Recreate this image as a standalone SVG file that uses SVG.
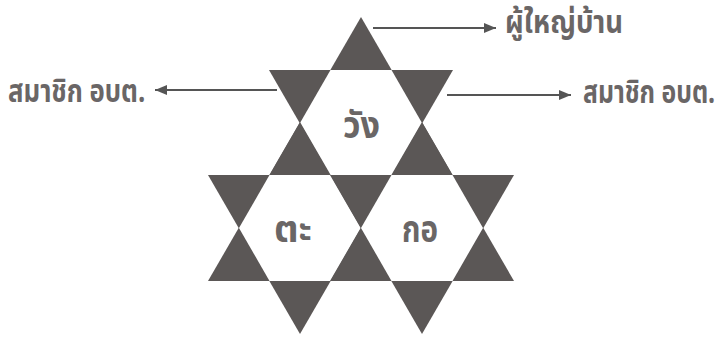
<svg xmlns="http://www.w3.org/2000/svg" width="722" height="337" viewBox="0 0 722 337">
<defs>
<style>
.tri{fill:#5b5756}
.hex{fill:#ffffff}
.lbl{font-family:"Noto Sans Thai","Noto Sans","DejaVu Sans",sans-serif;font-weight:bold;fill:#6a6666}
.in{font-size:38px}
.out{font-size:32px}
.con{stroke:#555;stroke-width:2;fill:none}
</style>
<marker id="ah" viewBox="0 0 12 10" refX="12" refY="5" markerWidth="12" markerHeight="10" markerUnits="userSpaceOnUse" orient="auto">
<path d="M0,0 L12,5 L0,10 Z" fill="#555"/>
</marker>
</defs>
<rect width="722" height="337" fill="#fff"/>
<g id="star-wang">
<polygon class="tri" points="361,17 453,176 269,176"/>
<polygon class="tri" points="361,229 453,70 269,70"/>
<polygon class="hex" points="300,123 330.5,70 391.5,70 422,123 391.5,176 330.5,176"/>
<text class="lbl in" x="343" y="138" textLength="37" lengthAdjust="spacingAndGlyphs">วัง</text>
</g>
<g id="star-ta">
<polygon class="tri" points="300,122 392,281 208,281"/>
<polygon class="tri" points="300,334 392,175 208,175"/>
<polygon class="hex" points="239,228 269.5,175 330.5,175 361,228 330.5,281 269.5,281"/>
<text class="lbl in" x="274" y="242" textLength="38" lengthAdjust="spacingAndGlyphs">ตะ</text>
</g>
<g id="star-ko">
<polygon class="tri" points="422,122 514,281 330,281"/>
<polygon class="tri" points="422,334 514,175 330,175"/>
<polygon class="hex" points="361,228 391.5,175 452.5,175 483,228 452.5,281 391.5,281"/>
<text class="lbl in" x="402" y="242" textLength="36" lengthAdjust="spacingAndGlyphs">กอ</text>
</g>
<g id="connectors">
<line class="con" x1="373" y1="28" x2="496" y2="28" marker-end="url(#ah)"/>
<line class="con" x1="277" y1="90" x2="155" y2="90" marker-end="url(#ah)"/>
<line class="con" x1="447" y1="95" x2="571" y2="95" marker-end="url(#ah)"/>
</g>
<g id="label-headman"><text class="lbl out" transform="translate(505,33) scale(0.86,1)">ผู้ใหญ่บ้าน</text></g>
<g id="label-left"><text class="lbl out" transform="translate(8,102) scale(0.805,1)">สมาชิก อบต.</text></g>
<g id="label-right"><text class="lbl out" transform="translate(583,103) scale(0.775,1)">สมาชิก อบต.</text></g>
</svg>
